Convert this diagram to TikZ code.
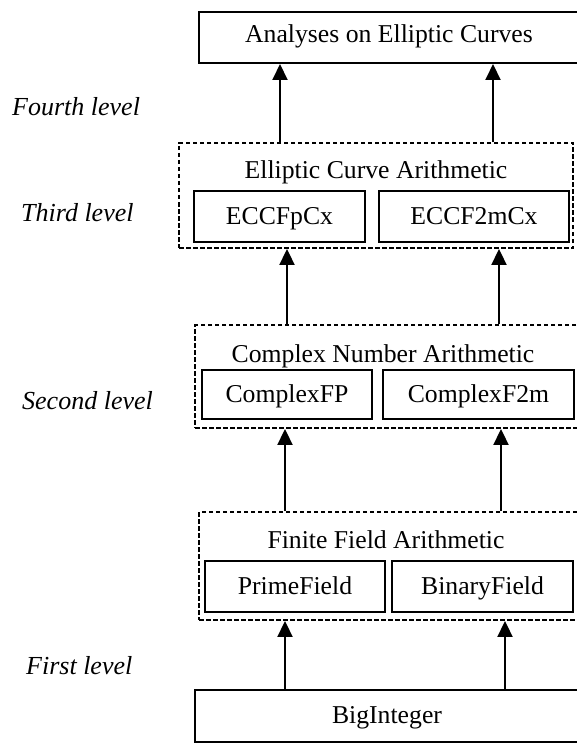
\documentclass[tikz,border=0pt]{standalone}
\usepackage{fontspec}
\setmainfont{Liberation Serif}
\usetikzlibrary{arrows.meta}
\begin{document}
\begin{tikzpicture}[x=1pt,y=-1pt,
  every node/.style={inner sep=0pt, font=\fontsize{25.7}{30}\selectfont},
  solidbox/.style={draw, line width=2pt, rectangle, text height=17pt, text depth=2pt},
  groupbox/.style={draw, line width=1.9pt, dash pattern=on 4.5pt off 2.5pt, rectangle},
  title/.style={anchor=center, text height=17pt, text depth=0pt},
  levellabel/.style={font=\fontsize{26}{30}\selectfont\itshape, anchor=west},
  up/.style={line width=2pt, -{Triangle[width=15pt,length=16pt]}}]
\useasboundingbox (0,0) rectangle (576,743);
\fill[white] (0,0) rectangle (576,743);

% fourth level
\node[solidbox, text depth=7pt, minimum width=380pt, minimum height=51pt] (top) at (389,37.5) {Analyses on Elliptic Curves};

% third level: elliptic curve arithmetic
\node[groupbox, minimum width=394pt, minimum height=105pt] (ell) at (376,195.5) {};
\node[title] (elltitle) at (376,170.5) {Elliptic Curve Arithmetic};
\node[solidbox, minimum width=171pt, minimum height=51pt] (eccfp) at (279.5,216.5) {ECCFpCx};
\node[solidbox, minimum width=190pt, minimum height=51pt] (eccf2m) at (474,216.5) {ECCF2mCx};

% second level: complex number arithmetic
\node[groupbox, minimum width=384pt, minimum height=103pt] (cx) at (387,376.5) {};
\node[title] (cxtitle) at (383,353.5) {Complex Number Arithmetic};
\node[solidbox, minimum width=170pt, minimum height=49pt] (cxfp) at (287,394.5) {ComplexFP};
\node[solidbox, minimum width=191pt, minimum height=49pt] (cxf2m) at (478.5,394.5) {ComplexF2m};

% first level: finite field arithmetic
\node[groupbox, minimum width=380pt, minimum height=108pt] (ff) at (389,566) {};
\node[title] (fftitle) at (386,540) {Finite Field Arithmetic};
\node[solidbox, minimum width=180pt, minimum height=51pt] (prime) at (295,586.5) {PrimeField};
\node[solidbox, minimum width=181pt, minimum height=51pt] (binary) at (482.5,586.5) {BinaryField};

% base
\node[solidbox, text depth=3pt, minimum width=384pt, minimum height=52pt] (big) at (387,716) {BigInteger};

% level labels
\node[levellabel] (l4) at (12,107) {Fourth level};
\node[levellabel] (l3) at (21,213) {Third level};
\node[levellabel] (l2) at (22,401) {Second level};
\node[levellabel] (l1) at (26,666) {First level};

% dependencies between layers
\draw[up] (ell.north -| 280,0) -- (top.south -| 280,0);
\draw[up] (ell.north -| 493,0) -- (top.south -| 493,0);
\draw[up] (cx.north -| 287,0) -- (ell.south -| 287,0);
\draw[up] (cx.north -| 499,0) -- (ell.south -| 499,0);
\draw[up] (ff.north -| 285,0) -- (cx.south -| 285,0);
\draw[up] (ff.north -| 501,0) -- (cx.south -| 501,0);
\draw[up] (big.north -| 285,0) -- (ff.south -| 285,0);
\draw[up] (big.north -| 505,0) -- (ff.south -| 505,0);
\end{tikzpicture}
\end{document}
